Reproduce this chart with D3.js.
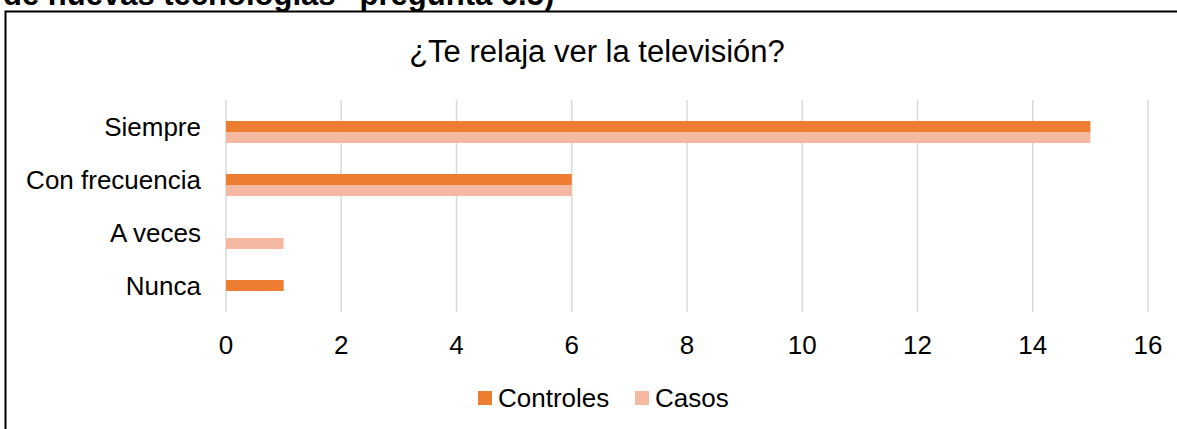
<!DOCTYPE html>
<html>
<head>
<meta charset="utf-8">
<script src="https://cdn.jsdelivr.net/npm/d3@7"></script>
<style>
  body { margin: 0; background: #fff; }
  text { font-family: "Liberation Sans", Arial, sans-serif; fill: #000; }
</style>
</head>
<body>
<svg id="chart" width="1177" height="429"></svg>
<script>
var categories = ["Siempre", "Con frecuencia", "A veces", "Nunca"];
var seriesNames = ["Controles", "Casos"];
var controles = [15, 6, 0, 1];
var casos = [15, 6, 1, 0];
var xTicks = [0, 2, 4, 6, 8, 10, 12, 14, 16];
var chartTitle = "¿Te relaja ver la televisión?";
var headText = "de nuevas tecnologías\u201d pregunta 6.5)";

var colors = { Controles: "#ed7d31", Casos: "#f5b8a1" };

var svg = d3.select("#chart");
svg.append("rect").attr("width", 1177).attr("height", 429).attr("fill", "#fff");

// heading cut at the top of the page
svg.append("text")
   .attr("x", 3).attr("y", 5)
   .style("font-size", "31px").style("font-weight", "bold")
   .text(headText);

// chart frame (left + top edge visible)
svg.append("path")
   .attr("d", "M5.5,440 L5.5,11.5 L1180,11.5")
   .attr("fill", "none").attr("stroke", "#000").attr("stroke-width", 2);

var plot = { left: 226, right: 1148, top: 100, bottom: 312 };

var x = d3.scaleLinear().domain([0, 16]).range([plot.left, plot.right]);
var y = d3.scaleBand().domain(categories).range([plot.top, plot.bottom]);
var barH = 11;
var barShift = 5.5; // bars sit a bit lower than label centres

// grid
svg.append("g").selectAll("line")
   .data(xTicks).enter().append("line")
   .attr("x1", function(d) { return x(d); })
   .attr("x2", function(d) { return x(d); })
   .attr("y1", plot.top).attr("y2", plot.bottom)
   .attr("stroke", "#d9d9d9").attr("stroke-width", 1.5);

// x tick labels
svg.append("g").selectAll("text")
   .data(xTicks).enter().append("text")
   .attr("x", function(d) { return x(d); })
   .attr("y", 354)
   .attr("text-anchor", "middle")
   .style("font-size", "26px")
   .text(function(d) { return d; });

// category labels
svg.append("g").selectAll("text")
   .data(categories).enter().append("text")
   .attr("x", 201)
   .attr("y", function(d) { return y(d) + y.bandwidth() / 2; })
   .attr("dy", "0.36em")
   .attr("text-anchor", "end")
   .style("font-size", "26px")
   .text(function(d) { return d; });

// bars
var series = [
  { name: "Controles", values: controles, off: -barH },
  { name: "Casos", values: casos, off: 0 }
];
series.forEach(function(s) {
  svg.append("g").selectAll("rect")
     .data(categories.map(function(c, i) { return { cat: c, v: s.values[i] }; }))
     .enter().append("rect")
     .filter(function(d) { return d.v > 0; })
     .attr("x", x(0))
     .attr("y", function(d) { return y(d.cat) + y.bandwidth() / 2 + barShift + s.off; })
     .attr("width", function(d) { return x(d.v) - x(0); })
     .attr("height", barH)
     .attr("fill", colors[s.name]);
});

// title
svg.append("text")
   .attr("x", 597).attr("y", 62)
   .attr("text-anchor", "middle")
   .style("font-size", "31px")
   .text(chartTitle);

// legend
var legendX = [478, 635];
var legend = svg.append("g").selectAll("g")
   .data(seriesNames).enter().append("g")
   .attr("transform", function(d, i) { return "translate(" + legendX[i] + ",0)"; });
legend.append("rect")
   .attr("x", 0).attr("y", 391).attr("width", 14).attr("height", 14)
   .attr("fill", function(d) { return colors[d]; });
legend.append("text")
   .attr("x", 20).attr("y", 407)
   .style("font-size", "26px")
   .text(function(d) { return d; });
</script>
</body>
</html>
